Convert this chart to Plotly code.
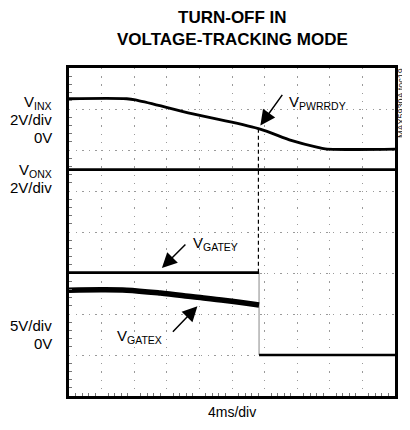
import plotly.graph_objects as go

# ---- data (divisions: x 0..10, y 0..8) ----
vinx_t = [0, 1.77, 2.1, 3.8, 5.81, 6.84, 7.6, 7.86, 10]
vinx_v = [7.25, 7.25, 7.21, 6.88, 6.52, 6.23, 6.07, 6.03, 6.02]

vonx_t = [0, 10]
vonx_v = [5.52, 5.52]

gatey_t = [0, 5.83]
gatey_v = [3.01, 3.01]

drop_t = [5.83, 5.83]
drop_v = [3.01, 1.0]

low_t = [5.83, 10]
low_v = [1.0, 1.0]

gatex_t = [0, 1.0, 1.77, 2.8, 3.8, 4.8, 5.83]
gatex_v = [2.58, 2.59, 2.58, 2.51, 2.42, 2.33, 2.22]

pwrrdy_t = [5.81, 5.81]
pwrrdy_v = [6.52, 3.01]

FONT = "Liberation Sans, Arial"

fig = go.Figure()
fig.add_trace(go.Scatter(x=pwrrdy_t, y=pwrrdy_v, mode="lines",
                         line=dict(color="black", width=1.2, dash="4px,3px")))
fig.add_trace(go.Scatter(x=drop_t, y=drop_v, mode="lines",
                         line=dict(color="#b0b0b0", width=1.5)))
fig.add_trace(go.Scatter(x=vinx_t, y=vinx_v, mode="lines", line_shape="spline",
                         line=dict(color="black", width=2.8)))
fig.add_trace(go.Scatter(x=vonx_t, y=vonx_v, mode="lines",
                         line=dict(color="black", width=2.8)))
fig.add_trace(go.Scatter(x=gatey_t, y=gatey_v, mode="lines",
                         line=dict(color="black", width=2.6)))
fig.add_trace(go.Scatter(x=low_t, y=low_v, mode="lines",
                         line=dict(color="black", width=2.6)))
fig.add_trace(go.Scatter(x=gatex_t, y=gatex_v, mode="lines", line_shape="spline",
                         line=dict(color="black", width=5.5)))

ann = []
def txt(x, y, s, xanchor="left", size=15, **kw):
    ann.append(dict(x=x, y=y, xref="paper", yref="paper", text=s, showarrow=False,
                    xanchor=xanchor, yanchor="middle",
                    font=dict(family=FONT, size=size, color="black"), **kw))

# window pixel -> paper (plot area 68.5..397 x, 67.5..396 y in the window)
def px(x):
    return (x - 68.5) / 328.5
def py(y):
    return (396 - y) / 328.5

# left labels
for s, y in [("V<sub>INX</sub>", 102), ("2V/div", 119), ("0V", 137),
             ("V<sub>ONX</sub>", 170), ("2V/div", 187),
             ("5V/div", 325), ("0V", 343)]:
    txt(px(53), py(y), s, xanchor="right")

# trace labels
txt(px(288), py(102), "V<sub>PWRRDY</sub>")
txt(px(191), py(243), "V<sub>GATEY</sub>")
txt(px(164), py(336), "V<sub>GATEX</sub>", xanchor="right")

# arrows
for hx, hy, ax, ay in [(5.87, 6.6, 23, -32), (2.85, 3.12, 25, -25), (3.94, 2.19, -26, 27)]:
    ann.append(dict(x=hx, y=hy, xref="x", yref="y", ax=ax, ay=ay, text="",
                    showarrow=True, arrowhead=2, arrowsize=2.0, arrowwidth=1.5,
                    arrowcolor="black"))

# title
ann.append(dict(x=px(233), y=py(17), xref="paper", yref="paper", showarrow=False,
                text="<b>TURN-OFF IN</b>", xanchor="center", yanchor="middle",
                font=dict(family=FONT, size=17, color="black")))
ann.append(dict(x=px(233), y=py(39), xref="paper", yref="paper", showarrow=False,
                text="<b>VOLTAGE-TRACKING MODE</b>", xanchor="center", yanchor="middle",
                font=dict(family=FONT, size=17, color="black")))
# x label
txt(px(233), py(412), "4ms/div", xanchor="center", size=14)
# side code
ann.append(dict(x=px(403.5), y=py(102), xref="paper", yref="paper", showarrow=False,
                text="MAX5930A toc19", textangle=-90, xanchor="center", yanchor="middle",
                font=dict(family=FONT, size=9, color="#222")))

# page body has an 8px margin, so the figure is drawn 8px in from the window edge
fig.update_layout(
    width=402, height=422,
    margin=dict(l=60.5, r=13, t=59.5, b=34, pad=0),
    paper_bgcolor="white", plot_bgcolor="white",
    showlegend=False, annotations=ann,
    xaxis=dict(range=[0, 10], dtick=1, showticklabels=False, showgrid=True,
               gridcolor="#9a9a9a", gridwidth=1.3, griddash="1.3px,6.9px",
               zeroline=False, showline=True, mirror=True, linecolor="black",
               linewidth=3, ticks="",
               minor=dict(ticks="inside", dtick=0.2, ticklen=3, tickcolor="#777", showgrid=False)),
    yaxis=dict(range=[0, 8], dtick=1, showticklabels=False, showgrid=True,
               gridcolor="#9a9a9a", gridwidth=1.3, griddash="1.3px,5.3px",
               zeroline=False, showline=True, mirror=True, linecolor="black",
               linewidth=3, ticks="",
               minor=dict(ticks="inside", dtick=0.2, ticklen=3, tickcolor="#777", showgrid=False)),
)

fig.write_html("out.html")
